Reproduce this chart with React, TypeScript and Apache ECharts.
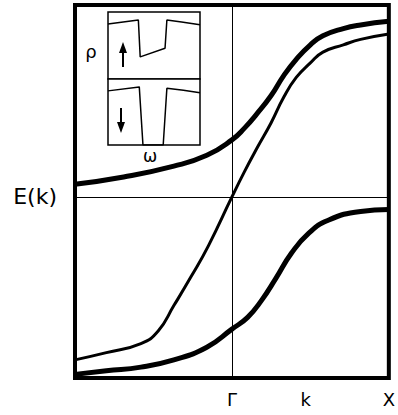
import React, { useEffect, useRef } from "react";
import * as echarts from "echarts";

// Band dispersion E(k), k from -1 to X (=1), Γ at 0
const kA = [-1, -0.69, -0.37, -0.16, 0, 0.08, 0.16, 0.25, 0.33, 0.41, 0.5, 0.58, 0.71, 0.82, 1];
const eA = [0.07, 0.11, 0.17, 0.23, 0.315, 0.38, 0.46, 0.56, 0.67, 0.76, 0.84, 0.89, 0.93, 0.95, 0.97];

const kB = [-1, -0.8, -0.58, -0.47, -0.37, -0.26, -0.15, 0, 0.08, 0.16, 0.25, 0.33, 0.41, 0.5, 0.58, 0.71, 0.82, 1];
const eB = [-0.9, -0.86, -0.81, -0.74, -0.6, -0.44, -0.27, 0, 0.14, 0.27, 0.41, 0.55, 0.66, 0.74, 0.8, 0.84, 0.87, 0.9];

const kC = [-1, -0.8, -0.58, -0.37, -0.16, 0, 0.1, 0.19, 0.28, 0.38, 0.49, 0.61, 0.82, 1];
const eC = [-0.98, -0.96, -0.94, -0.9, -0.83, -0.73, -0.665, -0.57, -0.45, -0.31, -0.2, -0.13, -0.08, -0.07];

// Inset: density of states ρ(ω), spin up / spin down
const wUp = [0, 0.33, 0.35, 0.62, 0.64, 0.8, 1];
const rhoUp = [0.82, 0.88, 0.33, 0.46, 0.88, 0.85, 0.81];
const wDown = [0, 0.34, 0.38, 0.6, 0.64, 0.82, 1];
const rhoDown = [0.82, 0.88, 0, 0, 0.86, 0.83, 0.79];

const kTicks = [0, 0.47, 1];
const kTickLabels = ["Γ", "k", "X"];
const eTicks = [0];
const eTickLabels = ["E(k)"];

const zip = (xs: number[], ys: number[]) => xs.map((x, i) => [x, ys[i]]);

export default function App() {
  const ref = useRef<HTMLDivElement>(null);
  useEffect(() => {
    if (!ref.current) return;
    const chart = echarts.init(ref.current, null, { renderer: "svg" });
    const font = "DejaVu Sans";
    const hiddenAxis = (gi: number) => ({
      gridIndex: gi,
      type: "value" as const,
      min: 0,
      max: 1,
      axisLine: { show: false },
      axisTick: { show: false },
      axisLabel: { show: false },
      splitLine: { show: false },
    });
    const band = (xs: number[], ys: number[], width: number) => ({
      type: "line",
      xAxisIndex: 0,
      yAxisIndex: 0,
      data: zip(xs, ys),
      smooth: 0.5,
      symbol: "none",
      lineStyle: { color: "#000", width },
    });
    chart.setOption({
      animation: false,
      backgroundColor: "#fff",
      textStyle: { fontFamily: font, color: "#000" },
      grid: [
        { left: 75, right: 7, top: 5, bottom: 37, show: true, borderColor: "#000", borderWidth: 4, backgroundColor: "transparent" },
        { left: 108, top: 12, width: 92, height: 67, show: true, borderColor: "#000", borderWidth: 1.5, backgroundColor: "#fff" },
        { left: 108, top: 79, width: 92, height: 66, show: true, borderColor: "#000", borderWidth: 1.5, backgroundColor: "#fff" },
      ],
      xAxis: [
        {
          gridIndex: 0,
          type: "value",
          min: -1,
          max: 1,
          axisLine: { show: false },
          axisTick: { show: false },
          splitLine: { show: false },
          axisLabel: {
            customValues: kTicks,
            formatter: (v: number) => {
              const i = kTicks.findIndex((t) => Math.abs(t - v) < 1e-6);
              return i >= 0 ? kTickLabels[i] : "";
            },
            fontSize: 18,
            color: "#000",
            fontFamily: font,
            margin: 12,
          },
        },
        hiddenAxis(1),
        hiddenAxis(2),
      ],
      yAxis: [
        {
          gridIndex: 0,
          type: "value",
          min: -1,
          max: 1.06,
          axisLine: { show: false },
          axisTick: { show: false },
          splitLine: { show: false },
          axisLabel: {
            customValues: eTicks,
            formatter: (v: number) => {
              const i = eTicks.findIndex((t) => Math.abs(t - v) < 1e-6);
              return i >= 0 ? eTickLabels[i] : "";
            },
            fontSize: 22,
            color: "#000",
            fontFamily: font,
            margin: 18,
          },
        },
        hiddenAxis(1),
        hiddenAxis(2),
      ],
      series: [
        {
          ...band(kB, eB, 3),
          markLine: {
            silent: true,
            symbol: ["none", "none"],
            label: { show: false },
            lineStyle: { color: "#000", width: 1, type: "solid" },
            data: [{ xAxis: 0 }, { yAxis: 0 }],
          },
        },
        band(kA, eA, 5),
        band(kC, eC, 5),
        {
          type: "line",
          xAxisIndex: 1,
          yAxisIndex: 1,
          data: zip(wUp, rhoUp),
          symbol: "none",
          lineStyle: { color: "#000", width: 1.5 },
          z: 5,
        },
        {
          type: "line",
          xAxisIndex: 2,
          yAxisIndex: 2,
          data: zip(wDown, rhoDown),
          symbol: "none",
          lineStyle: { color: "#000", width: 1.5 },
          z: 5,
        },
      ],
      graphic: [
        { type: "line", shape: { x1: 123, y1: 67, x2: 123, y2: 50 }, style: { stroke: "#000", lineWidth: 2 }, z: 10 },
        { type: "polygon", shape: { points: [[119, 53], [127, 53], [123, 42]] }, style: { fill: "#000" }, z: 10 },
        { type: "line", shape: { x1: 121, y1: 108, x2: 121, y2: 125 }, style: { stroke: "#000", lineWidth: 2 }, z: 10 },
        { type: "polygon", shape: { points: [[117, 122], [125, 122], [121, 133]] }, style: { fill: "#000" }, z: 10 },
        { type: "text", x: 91, y: 51, style: { text: "ρ", font: `18px ${font}`, fill: "#000", align: "center", verticalAlign: "middle" }, z: 10 },
        { type: "text", x: 150, y: 156, style: { text: "ω", font: `17px ${font}`, fill: "#000", align: "center", verticalAlign: "middle" }, z: 10 },
      ],
    });
    return () => chart.dispose();
  }, []);
  return <div ref={ref} style={{ position: "fixed", left: 0, top: 0, width: 398, height: 415 }} />;
}
